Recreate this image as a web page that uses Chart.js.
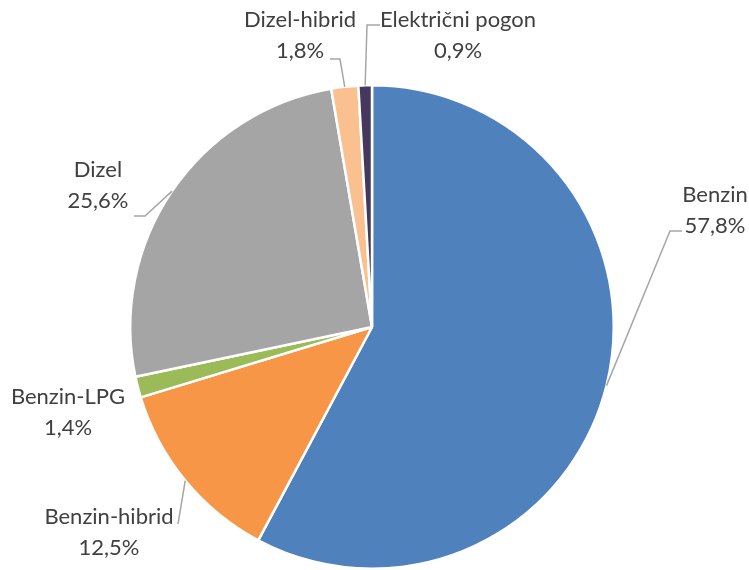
<!DOCTYPE html>
<html>
<head>
<meta charset="utf-8">
<script src="https://cdn.jsdelivr.net/npm/chart.js@4"></script>
<style>
  html, body { margin: 0; padding: 0; background: #fff; }
  #wrap { width: 749px; height: 570px; position: relative; }
</style>
</head>
<body>
<div id="wrap"><canvas id="pie"></canvas></div>
<script>
const categories = ['Benzin', 'Benzin-hibrid', 'Benzin-LPG', 'Dizel', 'Dizel-hibrid', 'Električni pogon'];
const shares = [57.8, 12.5, 1.4, 25.6, 1.8, 0.9];
const percentLabels = ['57,8%', '12,5%', '1,4%', '25,6%', '1,8%', '0,9%'];
const colors = ['#4F81BD', '#F79646', '#9BBB59', '#A5A5A5', '#FAC090', '#46375C'];

// label block: center x, first line y (middle)
const labelPos = [[715, 195], [109, 517], [68, 397], [98, 170], [300, 20], [458, 20]];
// leader line points after the slice edge (null = no leader)
const leaders = [
    [[670, 231], [682, 231]],
    [[178, 524]],
    null,
    [[145, 216], [134, 216]],
    [[340, 59], [330, 59]],
    [[367, 25], [380, 25]]
];

const labelPlugin = {
    id: 'pieLabels',
    afterDraw(chart) {
        const ctx = chart.ctx;
        const arcs = chart.getDatasetMeta(0).data;
        ctx.save();
        ctx.strokeStyle = '#A6A6A6';
        ctx.lineWidth = 1.5;
        arcs.forEach((arc, i) => {
            if (!leaders[i]) return;
            const mid = (arc.startAngle + arc.endAngle) / 2;
            const sx = arc.x + Math.cos(mid) * arc.outerRadius;
            const sy = arc.y + Math.sin(mid) * arc.outerRadius;
            ctx.beginPath();
            ctx.moveTo(sx, sy);
            leaders[i].forEach(p => ctx.lineTo(p[0], p[1]));
            ctx.stroke();
        });
        ctx.fillStyle = '#404040';
        ctx.font = '22px Lato';
        ctx.textAlign = 'center';
        ctx.textBaseline = 'middle';
        categories.forEach((name, i) => {
            const p = labelPos[i];
            ctx.fillText(name, p[0], p[1]);
            ctx.fillText(percentLabels[i], p[0], p[1] + 31);
        });
        ctx.restore();
    }
};

new Chart(document.getElementById('pie'), {
    type: 'pie',
    data: {
        labels: categories,
        datasets: [{
            data: shares,
            backgroundColor: colors,
            borderColor: '#FFFFFF',
            borderWidth: 2.5
        }]
    },
    options: {
        responsive: true,
        maintainAspectRatio: false,
        animation: false,
        layout: { padding: { top: 84, bottom: -2, left: 0, right: 5 } },
        plugins: {
            legend: { display: false },
            tooltip: { enabled: false }
        }
    },
    plugins: [labelPlugin]
});
</script>
</body>
</html>
